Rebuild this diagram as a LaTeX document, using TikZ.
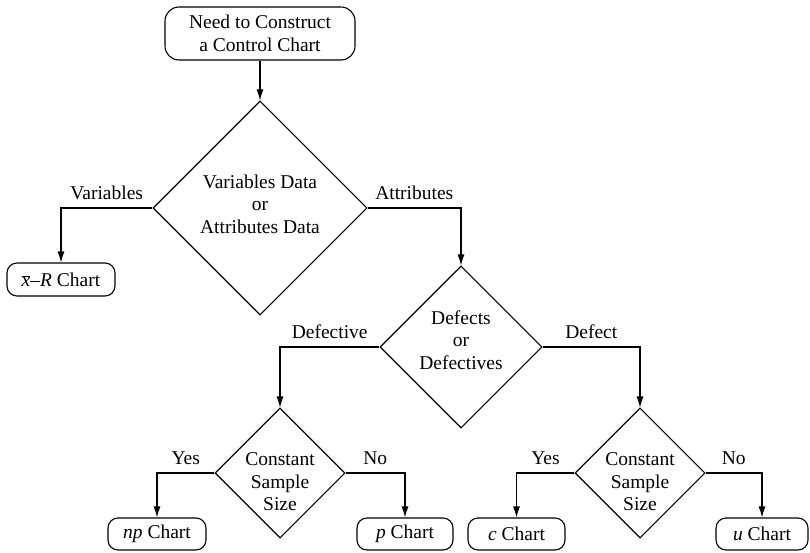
\documentclass[tikz,border=0pt]{standalone}
\usepackage{fontspec}
\setmainfont{Liberation Serif}
\usetikzlibrary{arrows.meta,positioning,shapes.geometric}

\begin{document}
\begin{tikzpicture}[
    x=1pt, y=-1pt,
    >={Latex[length=11pt,width=7pt]},
    font=\fontsize{19.5}{22.5}\selectfont,
    line width=1.1pt,
    start/.style={draw, rounded corners=14pt, align=center, minimum width=190pt, minimum height=53pt, inner sep=0pt},
    chart/.style={draw, rounded corners=10pt, align=center, minimum width=96pt, minimum height=32pt, inner sep=0pt},
    decision/.style={draw, diamond, aspect=1, inner sep=0pt},
    branch/.style={anchor=base, yshift=8.5pt}
]
\useasboundingbox (0,0) rectangle (810,553);

% Start
\node[start] (need) at (260,33.5) {Need to Construct\\a Control Chart};

% Decisions
\node[decision, minimum width=214pt, minimum height=214pt,
      label={[align=center, yshift=4pt]center:Variables Data\\or\\Attributes Data}] (vadata) at (260,208) {};
\node[decision, minimum width=162pt, minimum height=162pt,
      label={[align=center, yshift=7pt]center:Defects\\or\\Defectives}] (defects) at (461,347) {};
\node[decision, minimum width=130pt, minimum height=130pt,
      label={[align=center, yshift=-9pt]center:Constant\\Sample\\Size}] (sizedef) at (280,473) {};
\node[decision, minimum width=130pt, minimum height=130pt,
      label={[align=center, yshift=-9pt]center:Constant\\Sample\\Size}] (sizedft) at (640,473) {};

% Charts
\node[chart, minimum width=108pt, minimum height=33pt] (xbar) at (61,279.5) {$\overline{\mbox{\textit{x}}}$--\textit{R} Chart};
\node[chart, minimum width=98pt] (npchart) at (157,534) {\textit{np} Chart};
\node[chart] (pchart) at (405,534) {\textit{p} Chart};
\node[chart, minimum width=97pt] (cchart) at (516.5,534) {\textit{c} Chart};
\node[chart, minimum width=92pt] (uchart) at (762,534) {\textit{u} Chart};

% Arrows
\draw[->] (need) -- (vadata);
\draw[->] (vadata.west) -| node[branch, pos=0.25] {Variables} (xbar.north);
\draw[->] (vadata.east) -| node[branch, pos=0.25] {Attributes} (defects.north);
\draw[->] (defects.west) -| node[branch, pos=0.25] {Defective} (sizedef.north);
\draw[->] (defects.east) -| node[branch, pos=0.25] {Defect} (sizedft.north);
\draw[->] (sizedef.west) -| node[branch, pos=0.25] {Yes} (npchart.north);
\draw[->] (sizedef.east) -| node[branch, pos=0.25] {No} (pchart.north);
\draw[->] (sizedft.west) -| node[branch, pos=0.25] {Yes} (cchart.north);
\draw[->] (sizedft.east) -| node[branch, pos=0.25] {No} (uchart.north);

\end{tikzpicture}
\end{document}
